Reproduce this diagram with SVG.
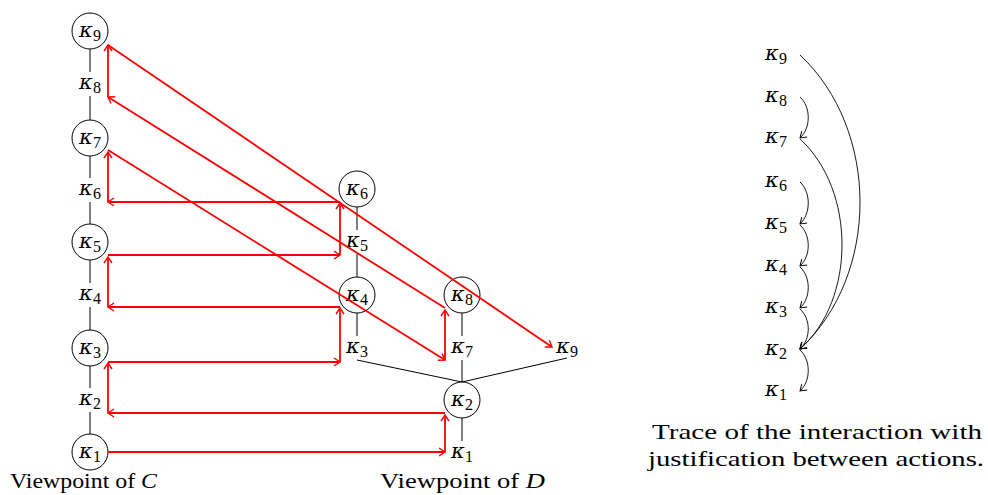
<svg xmlns="http://www.w3.org/2000/svg" width="988" height="495" viewBox="0 0 988 495">
<defs>
<marker id="ar" viewBox="-8 -5 10 10" refX="0" refY="0" markerWidth="10" markerHeight="10" markerUnits="userSpaceOnUse" orient="auto">
<path d="M -6 -4 Q -1.5 -1 0 0 Q -1.5 1 -6 4" fill="none" stroke="#ff0000" stroke-width="1.4"/>
</marker>
<marker id="ak" viewBox="-8 -5 10 10" refX="0" refY="0" markerWidth="10" markerHeight="10" markerUnits="userSpaceOnUse" orient="auto">
<path d="M -6 -4 Q -1.5 -1 0 0 Q -1.5 1 -6 4" fill="none" stroke="#000" stroke-width="1"/>
</marker>
</defs>
<style>
.k{font-family:'DejaVu Serif','Liberation Serif',serif;font-style:italic;font-size:21px;fill:#000;text-anchor:middle}
.s{font-family:'Liberation Serif','DejaVu Serif',serif;font-style:normal;font-size:16px}
.t{font-family:'Liberation Serif','DejaVu Serif',serif;font-size:22px;fill:#000}
.c{fill:#fff;stroke:#000;stroke-width:1}
.bl{stroke:#000;stroke-width:1;fill:none}
.rd{stroke:#ff0000;stroke-width:1.8;fill:none;marker-end:url(#ar)}
.tr{stroke:#000;stroke-width:0.9;fill:none;marker-end:url(#ak)}
</style>
<rect width="988" height="495" fill="#fff"/>

<g id="black-edges">
<line class="bl" x1="90" y1="49" x2="90" y2="72"/>
<line class="bl" x1="90" y1="96" x2="90" y2="120"/>
<line class="bl" x1="90" y1="156" x2="90" y2="178"/>
<line class="bl" x1="90" y1="202" x2="90" y2="224"/>
<line class="bl" x1="90" y1="260" x2="90" y2="283"/>
<line class="bl" x1="90" y1="307" x2="90" y2="330"/>
<line class="bl" x1="90" y1="366" x2="90" y2="388"/>
<line class="bl" x1="90" y1="412" x2="90" y2="434"/>
<line class="bl" x1="357" y1="207" x2="357" y2="230"/>
<line class="bl" x1="357" y1="254" x2="357" y2="277"/>
<line class="bl" x1="357" y1="313" x2="357" y2="336"/>
<line class="bl" x1="462" y1="313" x2="462" y2="336"/>
<line class="bl" x1="462" y1="360" x2="462" y2="382"/>
<line class="bl" x1="462" y1="418" x2="462" y2="441"/>
<line class="bl" x1="357" y1="360" x2="462" y2="382"/>
<line class="bl" x1="567" y1="358" x2="462" y2="382"/>
</g>

<g id="nodes">
<g id="C9"><circle class="c" cx="90" cy="31" r="18"/><text class="k" x="90" y="37">κ<tspan class="s" dy="4">9</tspan></text></g>
<g id="C8"><text class="k" x="90" y="89">κ<tspan class="s" dy="4">8</tspan></text></g>
<g id="C7"><circle class="c" cx="90" cy="138" r="18"/><text class="k" x="90" y="144">κ<tspan class="s" dy="4">7</tspan></text></g>
<g id="C6"><text class="k" x="90" y="195">κ<tspan class="s" dy="4">6</tspan></text></g>
<g id="C5"><circle class="c" cx="90" cy="242" r="18"/><text class="k" x="90" y="248">κ<tspan class="s" dy="4">5</tspan></text></g>
<g id="C4"><text class="k" x="90" y="300">κ<tspan class="s" dy="4">4</tspan></text></g>
<g id="C3"><circle class="c" cx="90" cy="348" r="18"/><text class="k" x="90" y="354">κ<tspan class="s" dy="4">3</tspan></text></g>
<g id="C2"><text class="k" x="90" y="405">κ<tspan class="s" dy="4">2</tspan></text></g>
<g id="C1"><circle class="c" cx="90" cy="452" r="18"/><text class="k" x="90" y="458">κ<tspan class="s" dy="4">1</tspan></text></g>

<g id="M6"><circle class="c" cx="357" cy="189" r="18"/><text class="k" x="357" y="195">κ<tspan class="s" dy="4">6</tspan></text></g>
<g id="M5"><text class="k" x="357" y="247">κ<tspan class="s" dy="4">5</tspan></text></g>
<g id="M4"><circle class="c" cx="357" cy="295" r="18"/><text class="k" x="357" y="301">κ<tspan class="s" dy="4">4</tspan></text></g>
<g id="M3"><text class="k" x="357" y="353">κ<tspan class="s" dy="4">3</tspan></text></g>

<g id="D8"><circle class="c" cx="462" cy="295" r="18"/><text class="k" x="462" y="301">κ<tspan class="s" dy="4">8</tspan></text></g>
<g id="D7"><text class="k" x="462" y="353">κ<tspan class="s" dy="4">7</tspan></text></g>
<g id="D2"><circle class="c" cx="462" cy="400" r="18"/><text class="k" x="462" y="406">κ<tspan class="s" dy="4">2</tspan></text></g>
<g id="D1"><text class="k" x="462" y="458">κ<tspan class="s" dy="4">1</tspan></text></g>
<g id="D9"><text class="k" x="567" y="353">κ<tspan class="s" dy="4">9</tspan></text></g>
</g>

<g id="red-arrows">
<line class="rd" x1="108" y1="452" x2="445" y2="452"/>
<line class="rd" x1="445" y1="452" x2="445" y2="415"/>
<line class="rd" x1="445" y1="413" x2="108" y2="413"/>
<line class="rd" x1="108" y1="413" x2="108" y2="363"/>
<line class="rd" x1="108" y1="362" x2="340" y2="362"/>
<line class="rd" x1="340" y1="362" x2="340" y2="308"/>
<line class="rd" x1="340" y1="307" x2="108" y2="307"/>
<line class="rd" x1="108" y1="307" x2="108" y2="257"/>
<line class="rd" x1="108" y1="255" x2="340" y2="255"/>
<line class="rd" x1="340" y1="255" x2="340" y2="203"/>
<line class="rd" x1="340" y1="202" x2="108" y2="202"/>
<line class="rd" x1="108" y1="202" x2="108" y2="152"/>
<line class="rd" x1="108" y1="150" x2="445" y2="360"/>
<line class="rd" x1="445" y1="360" x2="445" y2="310"/>
<line class="rd" x1="445" y1="308" x2="108" y2="97"/>
<line class="rd" x1="108" y1="97" x2="108" y2="45"/>
<line class="rd" x1="108" y1="45" x2="552" y2="347"/>
</g>

<g id="trace-labels">
<text class="k" x="776" y="60">κ<tspan class="s" dy="4">9</tspan></text>
<text class="k" x="776" y="102">κ<tspan class="s" dy="4">8</tspan></text>
<text class="k" x="776" y="143">κ<tspan class="s" dy="4">7</tspan></text>
<text class="k" x="776" y="187">κ<tspan class="s" dy="4">6</tspan></text>
<text class="k" x="776" y="229">κ<tspan class="s" dy="4">5</tspan></text>
<text class="k" x="776" y="271">κ<tspan class="s" dy="4">4</tspan></text>
<text class="k" x="776" y="313">κ<tspan class="s" dy="4">3</tspan></text>
<text class="k" x="776" y="355">κ<tspan class="s" dy="4">2</tspan></text>
<text class="k" x="776" y="396">κ<tspan class="s" dy="4">1</tspan></text>
</g>

<g id="trace-arrows">
<path class="tr" d="M 800 97 C 811 107 811 128 800 138"/>
<path class="tr" d="M 800 182 C 811 192 811 214 800 224"/>
<path class="tr" d="M 800 225 C 811 235 811 256 800 266"/>
<path class="tr" d="M 800 267 C 811 277 811 298 800 308"/>
<path class="tr" d="M 800 309 C 811 319 811 339 800 349"/>
<path class="tr" d="M 800 350 C 811 360 811 381 800 391"/>
<path class="tr" d="M 800 139 C 856 190 856 300 800 349"/>
<path class="tr" d="M 800 55 C 880 130 880 275 800 349"/>
</g>

<g id="captions">
<text class="t" x="10" y="488" textLength="147" lengthAdjust="spacingAndGlyphs">Viewpoint of <tspan font-style="italic">C</tspan></text>
<text class="t" x="380" y="488" textLength="165" lengthAdjust="spacingAndGlyphs">Viewpoint of <tspan font-style="italic">D</tspan></text>
<text class="t" x="652" y="439" textLength="330" lengthAdjust="spacingAndGlyphs">Trace of the interaction with</text>
<text class="t" x="648" y="466" textLength="336" lengthAdjust="spacingAndGlyphs">justification between actions.</text>
</g>
</svg>
